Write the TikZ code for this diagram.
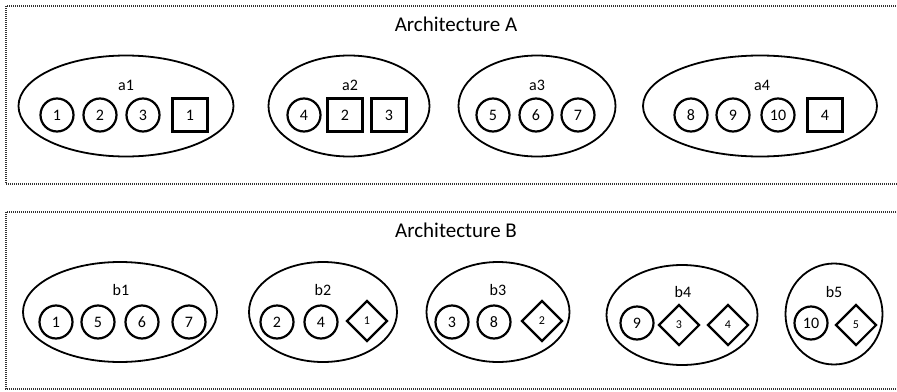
\documentclass[tikz,border=0pt]{standalone}
\usepackage{fontspec}
\setmainfont{Carlito}
\usetikzlibrary{shapes.geometric}
\begin{document}
\begin{tikzpicture}[
    x=1pt, y=-1pt,
    every node/.style={inner sep=0pt, font=\fontsize{16}{19}\selectfont},
    arch/.style={draw=black!80, line width=1.3pt, dash pattern=on 1pt off 1pt},
    title/.style={font=\fontsize{21}{25}\selectfont},
    cluster/.style={draw, ellipse, line width=1.8pt},
    job/.style={draw, circle, line width=2.2pt, minimum size=33pt},
    slot/.style={draw, rectangle, line width=2.2pt, minimum width=35pt, minimum height=33pt},
    gem/.style={draw, diamond, line width=2.2pt, minimum size=41pt, font=\fontsize{12}{14}\selectfont}
]
    \useasboundingbox (0,0) rectangle (897,391);
    \clip (0,0) rectangle (897,391);
    % architecture A
    \draw[arch] (6,6) rectangle (910,184);
    \node[title] (archA) at (456,24) {Architecture A};
    \node[cluster, minimum width=215pt, minimum height=101pt] (a1) at (126,106) {};
    \node[cluster, minimum width=161pt, minimum height=101pt] (a2) at (349,106) {};
    \node[cluster, minimum width=157pt, minimum height=101pt] (a3) at (537,106) {};
    \node[cluster, minimum width=234pt, minimum height=101pt] (a4) at (760,106) {};
    \node (a1-lbl) at (126,85) {a1};
    \node (a2-lbl) at (350,85) {a2};
    \node (a3-lbl) at (537,85) {a3};
    \node (a4-lbl) at (762,85) {a4};
    \node[job] (a1-j1) at (57,115) {1};
    \node[job] (a1-j2) at (100,115) {2};
    \node[job] (a1-j3) at (143,115) {3};
    \node[slot] (a1-s1) at (190,115) {1};
    \node[job] (a2-j4) at (304,115) {4};
    \node[slot] (a2-s2) at (345,115) {2};
    \node[slot] (a2-s3) at (389,115) {3};
    \node[job] (a3-j5) at (493,115) {5};
    \node[job] (a3-j6) at (536,115) {6};
    \node[job] (a3-j7) at (578,115) {7};
    \node[job] (a4-j8) at (691,115) {8};
    \node[job] (a4-j9) at (733,115) {9};
    \node[job] (a4-j10) at (778,115) {10};
    \node[slot] (a4-s4) at (825,115) {4};
    % architecture B
    \draw[arch] (6,212) rectangle (910,389);
    \node[title] (archB) at (456,230) {Architecture B};
    \node[cluster, minimum width=194pt, minimum height=100pt] (b1) at (120,312) {};
    \node[cluster, minimum width=148pt, minimum height=100pt] (b2) at (323,312) {};
    \node[cluster, minimum width=143pt, minimum height=100pt] (b3) at (498,312) {};
    \node[cluster, minimum width=151pt, minimum height=100pt] (b4) at (682,315) {};
    \node[cluster, minimum width=97pt, minimum height=101pt] (b5) at (834,314) {};
    \node (b1-lbl) at (121,290) {b1};
    \node (b2-lbl) at (323,290) {b2};
    \node (b3-lbl) at (498,290) {b3};
    \node (b4-lbl) at (683,292) {b4};
    \node (b5-lbl) at (834,292) {b5};
    \node[job] (b1-j1) at (56,322) {1};
    \node[job] (b1-j5) at (98,322) {5};
    \node[job] (b1-j6) at (142,322) {6};
    \node[job] (b1-j7) at (189,322) {7};
    \node[job] (b2-j2) at (277,322) {2};
    \node[job] (b2-j4) at (321,322) {4};
    \node[gem] (b2-d1) at (367,321) {1};
    \node[job] (b3-j3) at (452,322) {3};
    \node[job] (b3-j8) at (494,322) {8};
    \node[gem] (b3-d2) at (542,321) {2};
    \node[job] (b4-j9) at (637,323) {9};
    \node[gem] (b4-d3) at (679,325) {3};
    \node[gem] (b4-d4) at (728,325) {4};
    \node[job] (b5-j10) at (811,323) {10};
    \node[gem] (b5-d5) at (856,325) {5};
\end{tikzpicture}
\end{document}
